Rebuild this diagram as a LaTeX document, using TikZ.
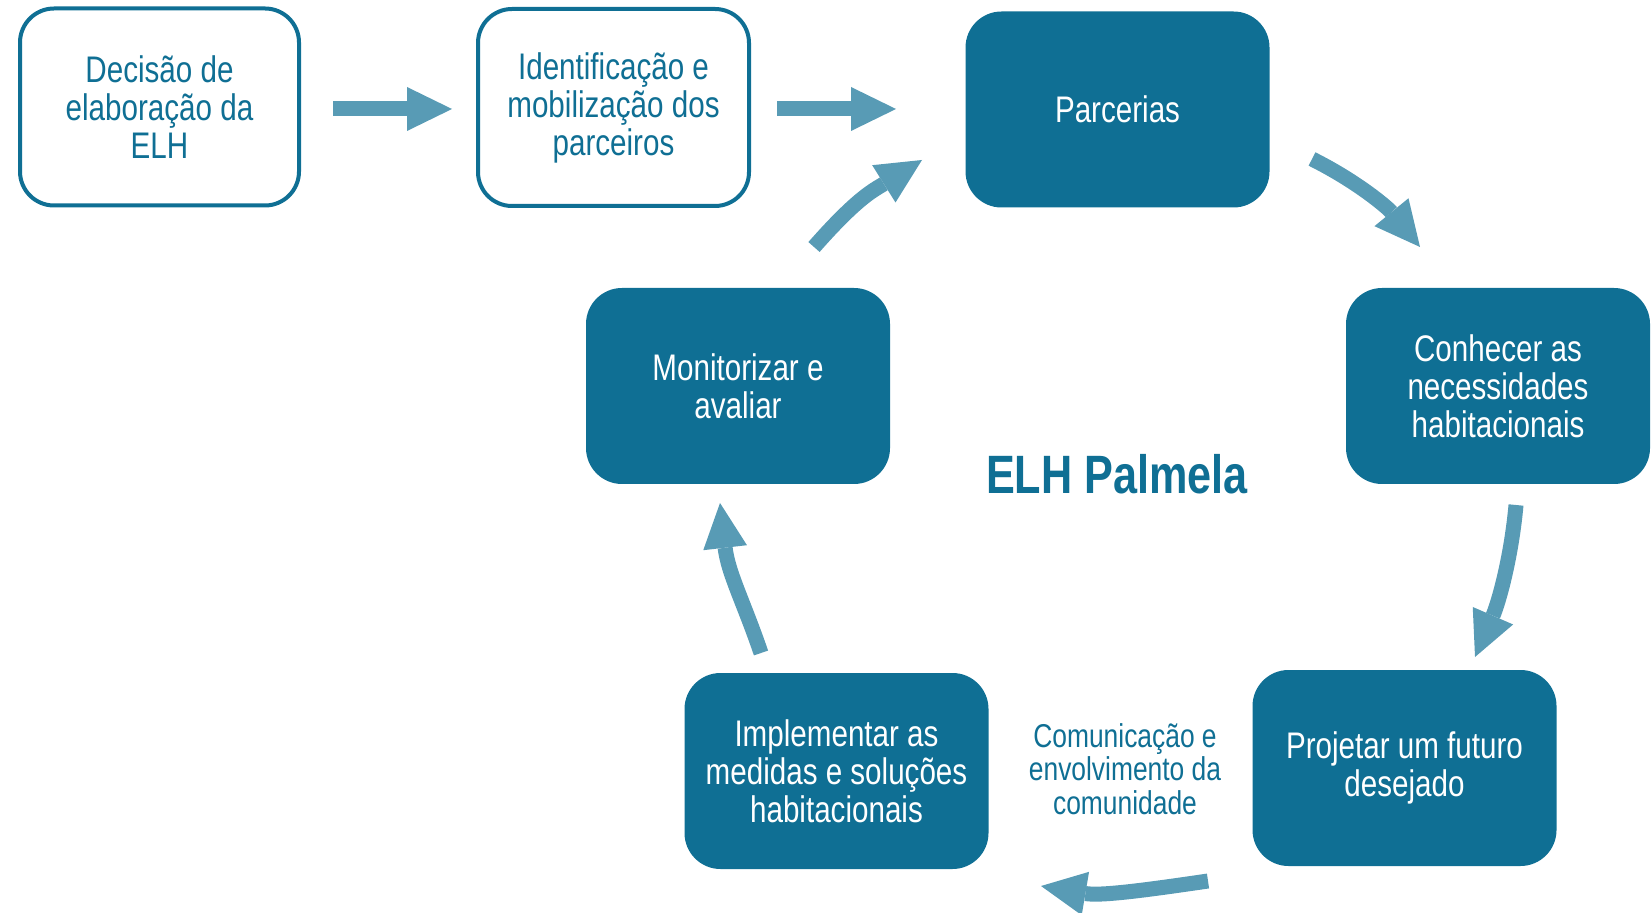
\documentclass[tikz,border=0pt]{standalone}
\usepackage{fontspec}
\setmainfont{Liberation Sans}[FakeStretch=0.8]
\usetikzlibrary{arrows.meta}
\definecolor{boxblue}{RGB}{15,111,148}
\definecolor{arrowblue}{RGB}{88,155,181}
\newcommand{\boxfont}{\fontsize{18.5pt}{19pt}\selectfont}
\newcommand{\commfont}{\fontsize{16.5pt}{16.8pt}\selectfont}
\tikzset{
  fillbox/.style={rounded corners=18pt, fill=boxblue, text=white,
    minimum width=152pt, minimum height=98pt, align=center,
    font=\boxfont, inner sep=0pt},
  linebox/.style={rounded corners=17pt, draw=boxblue, line width=2pt,
    fill=white, text=boxblue, minimum height=98.5pt, align=center,
    font=\boxfont, inner sep=0pt},
  blockarrow/.style={draw=arrowblue, line width=7.5pt,
    -{Triangle[width=22pt,length=22.5pt,line width=0pt]}},
  commlabel/.style={text=boxblue, align=center, font=\commfont, inner sep=0pt},
  titlelabel/.style={text=boxblue, font=\fontsize{27pt}{27pt}\selectfont\bfseries, inner sep=0pt}
}
\begin{document}
\begin{tikzpicture}[x=0.5pt, y=-0.5pt]
\useasboundingbox (0,0) rectangle (1652,913);

\node[linebox, minimum width=139.5pt] (dec) at (159.5,107) {Decisão de\\elaboração da\\ELH};
\node[linebox, minimum width=135.5pt] (ide) at (613.5,107.5) {Identificação e\\mobilização dos\\parceiros};
\node[fillbox] (par) at (1117.5,109.5) {Parcerias};
\node[fillbox] (con) at (1498,386) {Conhecer as\\necessidades\\habitacionais};
\node[fillbox] (pro) at (1404.5,768) {Projetar um futuro\\desejado};
\node[fillbox] (imp) at (836.5,771) {Implementar as\\medidas e soluções\\habitacionais};
\node[fillbox] (mon) at (738,386) {Monitorizar e\\avaliar};

\node[titlelabel] (title) at (1117,474) {ELH Palmela};
\node[commlabel] (comm) at (1125,769) {Comunicação e\\envolvimento da\\comunidade};

% arrow end points
\coordinate (a1s) at (333,109);
\coordinate (a1e) at (452,109);
\coordinate (a2s) at (777,109);
\coordinate (a2e) at (896,109);
\coordinate (a3s) at (1312,159);
\coordinate (a3e) at (1420,247);
\coordinate (a4s) at (1516,505);
\coordinate (a4e) at (1475,657);
\coordinate (a5s) at (1208,881);
\coordinate (a5e) at (1041,886);
\coordinate (a6s) at (761,653);
\coordinate (a6e) at (720,503);
\coordinate (a7s) at (814,247);
\coordinate (a7e) at (922,160);

\draw[blockarrow] (a1s) -- (a1e);
\draw[blockarrow] (a2s) -- (a2e);
\draw[blockarrow] (a3s) .. controls (1358,182) and (1388,208) .. (a3e);
\draw[blockarrow] (a4s) .. controls (1511,560) and (1498,604) .. (a4e);
\draw[blockarrow] (a5s) .. controls (1140,891) and (1100,896) .. (a5e);
\draw[blockarrow] (a6s) .. controls (744,603) and (728,573) .. (a6e);
\draw[blockarrow] (a7s) .. controls (858,197) and (874,190) .. (a7e);
\end{tikzpicture}
\end{document}
